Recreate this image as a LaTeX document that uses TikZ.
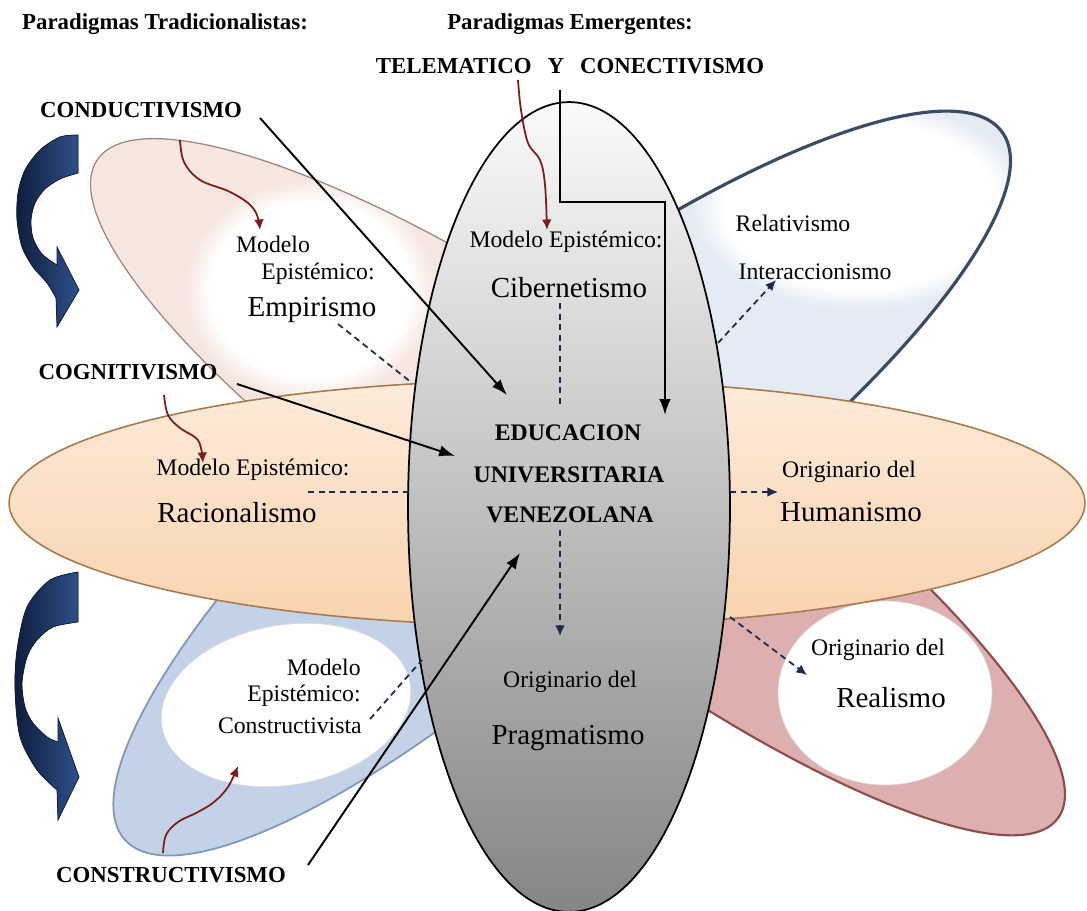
\documentclass[tikz,border=0pt]{standalone}
\usepackage{fontspec}
\setmainfont{Liberation Serif}
\usetikzlibrary{arrows.meta,fadings}
\definecolor{tlfill}{HTML}{F6E6E0}
\definecolor{tledge}{HTML}{A0837A}
\definecolor{trfill}{HTML}{E4EBF4}
\definecolor{tredge}{HTML}{3A4C63}
\definecolor{blfill}{HTML}{C4D2E7}
\definecolor{bledge}{HTML}{7F98BE}
\definecolor{brfill}{HTML}{DDAFAE}
\definecolor{bredge}{HTML}{8E4B4B}
\definecolor{orfill}{HTML}{F9D3AE}
\definecolor{orlight}{HTML}{FDEBDB}
\definecolor{oredge}{HTML}{A87A4E}
\definecolor{gtop}{HTML}{FAFAFA}
\definecolor{gmid}{HTML}{D2D2D2}
\definecolor{gbot}{HTML}{858585}
\definecolor{navyA}{HTML}{0E1D3C}
\definecolor{navyB}{HTML}{2F508A}
\definecolor{redarr}{HTML}{7E1B1B}
\definecolor{dashc}{HTML}{1B2A52}
\begin{document}
\begin{tikzpicture}[x=0.02cm,y=-0.02cm,
  boldlbl/.style={font=\fontsize{13}{15}\selectfont\bfseries, inner sep=0pt},
  edulbl/.style={font=\fontsize{13.5}{15}\selectfont\bfseries, inner sep=0pt},
  txt/.style={font=\fontsize{13.5}{16}\selectfont, inner sep=0pt},
  bigtxt/.style={font=\fontsize{16.5}{19}\selectfont, inner sep=0pt},
  blkarrow/.style={line width=1.1pt, draw=black, -{Latex[length=9pt,width=6.5pt]}},
  redwave/.style={line width=1pt, draw=redarr, -{Latex[length=6pt,width=5.5pt]}},
  dashline/.style={line width=1pt, draw=dashc, dash pattern=on 3.5pt off 2.5pt},
  dasharrow/.style={dashline, -{Latex[length=6pt,width=5.5pt]}},
  curvearrow/.style={left color=navyA, right color=navyB, draw=navyA, line width=0.4pt}
]
\useasboundingbox (0,0) rectangle (1087,911);
\fill[white] (0,0) rectangle (1087,911);

% ---- petals ----
\begin{scope}
  \clip (0,0) rectangle (569,503);
  \fill[tlfill, shift={(520,445)}, rotate=-34] (0,0) ellipse (10.2cm and 2.7cm);
  \fill[white, path fading=circle with fuzzy edge 20 percent] (310,290) ellipse (2.5cm and 2.2cm);
  \draw[tledge, line width=0.7pt, shift={(520,445)}, rotate=-34] (0,0) ellipse (10.2cm and 2.7cm);
\end{scope}
\begin{scope}
  \clip (569,0) rectangle (1087,503);
  \fill[trfill, shift={(588,438)}, rotate=36.5] (0,0) ellipse (10.3cm and 2.84cm);
  \fill[white, path fading=circle with fuzzy edge 20 percent] (860,205) ellipse (3.4cm and 2.1cm);
  \draw[tredge, line width=1.8pt, shift={(588,438)}, rotate=36.5] (0,0) ellipse (10.3cm and 2.84cm);
\end{scope}
\begin{scope}
  \clip (0,503) rectangle (569,911);
  \filldraw[fill=blfill, draw=bledge, line width=1pt, shift={(489,512)}, rotate=42] (0,0) ellipse (9.8cm and 2.76cm);
  \filldraw[fill=white, draw=white!85!black, line width=0.4pt, shift={(286,705)}, rotate=10] (0,0) ellipse (2.52cm and 1.6cm);
\end{scope}
\begin{scope}
  \clip (569,503) rectangle (1087,911);
  \filldraw[fill=brfill, draw=bredge, line width=1.2pt, shift={(648,515)}, rotate=-36.5] (0,0) ellipse (10.2cm and 2.56cm);
  \filldraw[fill=white, draw=white!85!black, line width=0.4pt] (885,693) ellipse (2.14cm and 1.84cm);
\end{scope}

% ---- horizontal and central ellipses ----
\shade[top color=orlight, bottom color=orfill] (547,503) ellipse (10.76cm and 2.46cm);
\draw[oredge, line width=0.9pt] (547,503) ellipse (10.76cm and 2.46cm);
\shade[top color=gtop, middle color=gmid, bottom color=gbot] (569,507) ellipse (3.22cm and 8.1cm);
\draw[black, line width=1pt] (569,507) ellipse (3.22cm and 8.1cm);

% ---- curved block arrows ----
\filldraw[curvearrow] (78,135) -- plot[smooth] coordinates {(78,135) (60,137) (40,150) (25,170) (18,193) (17,220) (22,247) (33,267) (47,283) (56,298)}
  -- (57,327) -- (79,290) -- (57,247) -- (57,265)
  -- plot[smooth] coordinates {(57,265) (42,254) (33,238) (31,220) (35,203) (45,189) (60,179) (78,173)} -- cycle;
\filldraw[curvearrow] (78,572) -- plot[smooth] coordinates {(78,572) (50,580) (27,607) (17,650) (15,690) (20,737) (37,770) (57,790)}
  -- (58,820) -- (79,777) -- (58,718) -- (58,742)
  -- plot[smooth] coordinates {(58,742) (47,737) (33,723) (25,707) (22,683) (27,657) (37,640) (53,627) (78,622)} -- cycle;

% ---- titles and paradigm labels ----
\node[boldlbl] (ptrad) at (165,24) {Paradigmas Tradicionalistas:};
\node[boldlbl] (pemer) at (570,24) {Paradigmas Emergentes:};
\node[boldlbl] (tele) at (570,66) {TELEMATICO\hspace{0.7em}Y\hspace{0.7em}CONECTIVISMO};
\node[boldlbl] (cond) at (141,110) {CONDUCTIVISMO};
\node[boldlbl] (cogn) at (128,372) {COGNITIVISMO};
\node[boldlbl] (cons) at (171,875) {CONSTRUCTIVISMO};

% ---- centre ----
\node[edulbl] (edu1) at (568,433) {EDUCACION};
\node[edulbl] (edu2) at (569,475) {UNIVERSITARIA};
\node[edulbl] (edu3) at (570,515) {VENEZOLANA};

% ---- epistemic model labels ----
\node[txt] (tlm) at (273,244) {Modelo};
\node[txt] (tle) at (318,274) {Epistémico:};
\node[bigtxt] (tlemp) at (312,310) {Empirismo};

\node[txt] (cme) at (566,242) {Modelo Epistémico:};
\node[bigtxt] (cib) at (569,288) {Cibernetismo};

\node[txt] (rel) at (793,223) {Relativismo};
\node[txt] (inter) at (815,272) {Interaccionismo};

\node[txt] (ome) at (253,470) {Modelo Epistémico:};
\node[bigtxt] (rac) at (237,513) {Racionalismo};

\node[txt] (ohum) at (849,472) {Originario del};
\node[bigtxt] (hum) at (851,512) {Humanismo};

\node[txt] (oprag) at (570,682) {Originario del};
\node[bigtxt] (prag) at (568,738) {Pragmatismo};

\node[txt, anchor=east] (blm) at (361,667) {Modelo};
\node[txt, anchor=east] (ble) at (361,696) {Epistémico:};
\node[txt, anchor=east] (blc) at (362,726) {Constructivista};

\node[txt] (oreal) at (878,650) {Originario del};
\node[bigtxt] (real) at (891,698) {Realismo};

% ---- connector end points ----
\coordinate (condS) at (260,118);
\coordinate (condE) at (507,395);
\coordinate (cognS) at (237,384);
\coordinate (cognE) at (455,456);
\coordinate (consS) at (308,865);
\coordinate (consE) at (520,553);
\coordinate (teleS) at (560,90);
\coordinate (teleK1) at (560,202);
\coordinate (teleK2) at (665,202);
\coordinate (teleE) at (665,415);

% black arrows
\draw[blkarrow] (condS) -- (condE);
\draw[blkarrow] (cognS) -- (cognE);
\draw[blkarrow] (consS) -- (consE);
\draw[blkarrow] (teleS) -- (teleK1) -- (teleK2) -- (teleE);

% red wavy arrows
\draw[redwave] plot[smooth, tension=0.6] coordinates {(180,140) (184,162) (200,180) (228,191) (248,203) (257,215) (260,230)};
\draw[redwave] plot[smooth, tension=0.6] coordinates {(518,80) (521,110) (528,143) (540,160) (545,185) (547,230)};
\draw[redwave] plot[smooth, tension=0.6] coordinates {(164,395) (168,415) (180,428) (196,438) (201,448) (203,463)};
\draw[redwave] plot[smooth, tension=0.6] coordinates {(163,853) (166,835) (178,822) (198,812) (214,802) (228,787) (238,766)};

% dashed connectors
\coordinate (d1s) at (338,324); \coordinate (d1e) at (412,383);
\coordinate (d2s) at (560,303); \coordinate (d2e) at (560,405);
\coordinate (d3s) at (308,492); \coordinate (d3e) at (412,492);
\coordinate (d4s) at (370,719); \coordinate (d4e) at (422,660);
\coordinate (d5s) at (718,343); \coordinate (d5e) at (776,280);
\coordinate (d6s) at (730,492); \coordinate (d6e) at (778,492);
\coordinate (d7s) at (560,530); \coordinate (d7e) at (560,636);
\coordinate (d8s) at (730,617); \coordinate (d8e) at (807,675);
\draw[dashline] (d1s) -- (d1e);
\draw[dashline] (d2s) -- (d2e);
\draw[dashline] (d3s) -- (d3e);
\draw[dashline] (d4s) -- (d4e);
\draw[dasharrow] (d5s) -- (d5e);
\draw[dasharrow] (d6s) -- (d6e);
\draw[dasharrow] (d7s) -- (d7e);
\draw[dasharrow] (d8s) -- (d8e);
\end{tikzpicture}
\end{document}
